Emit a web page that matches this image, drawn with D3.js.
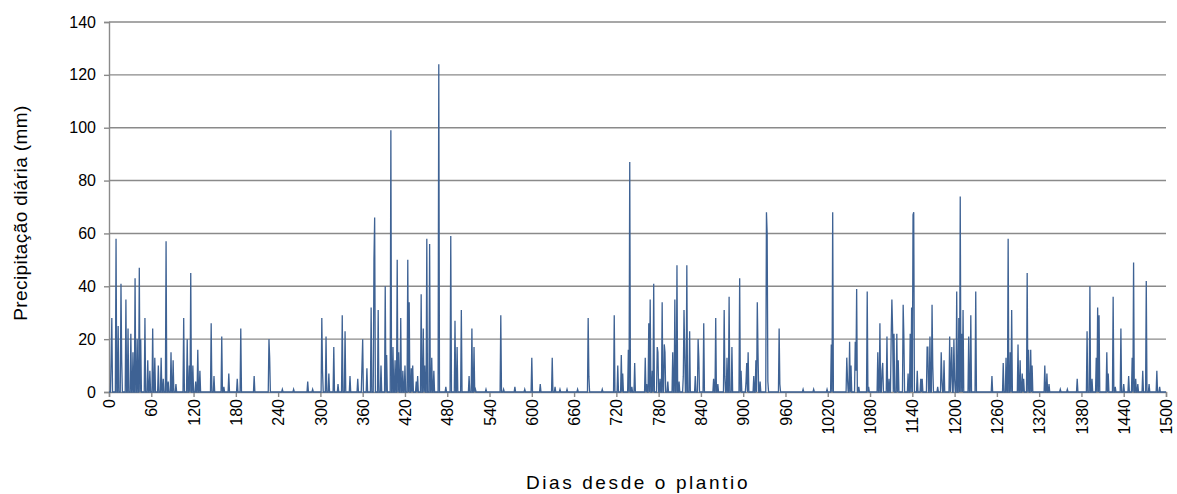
<!DOCTYPE html>
<html>
<head>
<meta charset="utf-8">
<script src="https://cdn.jsdelivr.net/npm/d3@7"></script>
<style>
  html, body { margin: 0; padding: 0; background: #ffffff; }
  svg { display: block; font-family: "Liberation Sans", Arial, sans-serif; }
</style>
</head>
<body>
<svg id="chart" width="1177" height="494"></svg>
<script>
// Days since planting that recorded rain, and the rainfall on each (mm).
const rainDay = [
  3, 4, 10, 13, 17, 18, 24, 27, 31, 34, 37, 40, 43, 45, 51, 55, 58, 62, 65, 70,
  74, 77, 81, 84, 88, 91, 95, 106, 111, 114, 116, 119, 123, 126, 129, 145, 149, 160, 163, 170,
  182, 187, 206, 227, 228, 246, 262, 282, 289, 302, 303, 308, 312, 319, 325, 331, 335, 342, 353, 359,
  360, 366, 372, 376, 377, 382, 386, 392, 394, 400, 403, 406, 409, 411, 414, 417, 420, 424, 426, 429,
  431, 436, 438, 443, 446, 448, 451, 455, 458, 461, 468, 478, 485, 491, 494, 500, 511, 515, 518, 520,
  535, 556, 560, 576, 590, 600, 612, 629, 633, 640, 650, 665, 680, 681, 700, 717, 722, 727, 729, 737,
  739, 742, 746, 761, 763, 766, 768, 771, 773, 778, 779, 782, 785, 788, 789, 793, 800, 803, 806, 809,
  815, 816, 817, 820, 824, 832, 836, 837, 844, 858, 861, 864, 873, 874, 877, 880, 884, 895, 897, 904,
  905, 907, 915, 918, 920, 921, 924, 933, 934, 935, 951, 952, 985, 1000, 1019, 1025, 1027, 1047, 1048, 1051,
  1053, 1059, 1060, 1061, 1064, 1076, 1078, 1091, 1094, 1097, 1098, 1104, 1107, 1110, 1111, 1112, 1114, 1118, 1120, 1127,
  1128, 1134, 1137, 1139, 1141, 1142, 1147, 1152, 1154, 1161, 1162, 1165, 1168, 1169, 1176, 1181, 1182, 1185, 1193, 1195,
  1196, 1199, 1200, 1203, 1206, 1208, 1210, 1212, 1220, 1223, 1230, 1253, 1269, 1273, 1276, 1279, 1281, 1290, 1293, 1296,
  1298, 1303, 1305, 1308, 1310, 1328, 1331, 1334, 1350, 1360, 1374, 1388, 1392, 1395, 1401, 1403, 1405, 1416, 1418, 1425,
  1428, 1436, 1440, 1447, 1452, 1454, 1457, 1460, 1467, 1472, 1476, 1487, 1491
];
const rainMm = [
  12, 28, 58, 25, 41, 12, 35, 24, 22, 15, 43, 20, 47, 20, 28, 12, 8, 24, 13, 10,
  13, 5, 57, 4, 15, 12, 3, 28, 20, 10, 45, 10, 4, 16, 8, 26, 6, 21, 2, 7,
  5, 24, 6, 20, 13, 1, 1, 4, 1, 28, 8, 21, 7, 17, 3, 29, 23, 6, 5, 10,
  20, 9, 32, 50, 66, 31, 10, 40, 14, 99, 17, 12, 50, 15, 28, 8, 10, 50, 34, 9,
  10, 4, 6, 37, 24, 10, 58, 56, 13, 8, 124, 2, 59, 27, 17, 31, 6, 24, 17, 1,
  1, 29, 1, 2, 1, 13, 3, 13, 2, 1, 1, 1, 28, 6, 1, 29, 10, 14, 7, 16,
  87, 2, 11, 13, 3, 26, 35, 8, 41, 17, 15, 5, 34, 18, 15, 4, 15, 35, 48, 4,
  6, 31, 15, 48, 23, 6, 20, 13, 26, 5, 28, 3, 31, 6, 13, 36, 17, 43, 8, 4,
  11, 15, 6, 12, 34, 15, 4, 68, 60, 4, 24, 3, 1, 1, 1, 18, 68, 13, 5, 19,
  10, 19, 8, 39, 2, 38, 2, 15, 26, 8, 11, 21, 5, 21, 35, 24, 22, 22, 12, 33,
  21, 7, 22, 32, 67, 68, 8, 5, 5, 17, 17, 21, 33, 10, 2, 15, 5, 12, 21, 8,
  17, 20, 5, 38, 28, 74, 22, 31, 21, 29, 38, 6, 11, 13, 58, 15, 31, 18, 12, 7,
  5, 45, 16, 16, 10, 10, 7, 3, 1, 1, 5, 23, 40, 5, 13, 32, 29, 15, 7, 36,
  2, 24, 3, 6, 13, 49, 5, 3, 8, 42, 3, 8, 2
];
const lastDay = 1500;
const dayTicks = d3.range(0, lastDay + 1, 60);
const mmTicks = [0, 20, 40, 60, 80, 100, 120, 140];

// One value per day: rain days take their reading, all other days are dry.
const rainByDay = new Map(rainDay.map((d, i) => [d, rainMm[i]]));
const series = d3.range(0, lastDay + 1).map(d => ({ day: d, mm: rainByDay.get(d) || 0 }));

const svg = d3.select("#chart");
const x = d3.scaleLinear().domain([0, lastDay]).range([109, 1166]);
const y = d3.scaleLinear().domain([0, 140]).range([392, 22]);

// Horizontal gridlines
svg.append("g")
  .selectAll("line")
  .data(mmTicks.filter(v => v > 0))
  .join("line")
  .attr("x1", x(0)).attr("x2", x(lastDay))
  .attr("y1", d => y(d)).attr("y2", d => y(d))
  .attr("stroke", "#8a8a8a")
  .attr("stroke-width", 1.4);

// Y axis
const yAxis = svg.append("g")
  .attr("transform", `translate(${x(0)},0)`)
  .call(d3.axisLeft(y).tickValues(mmTicks).tickSize(5).tickPadding(8));
yAxis.select(".domain").attr("stroke", "#8a8a8a").attr("stroke-width", 1.4);
yAxis.selectAll(".tick line").attr("stroke", "#8a8a8a").attr("stroke-width", 1.4);
yAxis.selectAll(".tick text")
  .attr("font-size", 16)
  .attr("fill", "#000")
  .attr("font-family", "Liberation Sans, Arial, sans-serif");

// X axis with vertical tick labels
const xAxis = svg.append("g")
  .attr("transform", `translate(0,${y(0)})`)
  .call(d3.axisBottom(x).tickValues(dayTicks).tickSize(5).tickFormat(d3.format("d")));
xAxis.select(".domain").attr("stroke", "#8a8a8a").attr("stroke-width", 1.4);
xAxis.selectAll(".tick line").attr("stroke", "#8a8a8a").attr("stroke-width", 1.4);
xAxis.selectAll(".tick text")
  .attr("font-size", 16)
  .attr("fill", "#000")
  .attr("font-family", "Liberation Sans, Arial, sans-serif")
  .attr("text-anchor", "end")
  .attr("dy", "0.35em")
  .attr("transform", "translate(0,7) rotate(-90)")
  .attr("x", 0)
  .attr("y", 0);

// Daily rainfall line
const line = d3.line().x(d => x(d.day)).y(d => y(d.mm));
svg.append("path")
  .datum(series)
  .attr("d", line)
  .attr("fill", "none")
  .attr("stroke", "#3e6294")
  .attr("stroke-width", 1.3)
  .attr("stroke-linejoin", "miter");

// Axis titles
svg.append("text")
  .attr("x", 638).attr("y", 489)
  .attr("text-anchor", "middle")
  .attr("font-size", 19)
  .attr("letter-spacing", 2.6)
  .attr("fill", "#000")
  .text("Dias desde o plantio");

svg.append("text")
  .attr("transform", "translate(27,213) rotate(-90)")
  .attr("text-anchor", "middle")
  .attr("font-size", 19)
  .attr("letter-spacing", 0.4)
  .attr("fill", "#000")
  .text("Precipitação diária (mm)");
</script>
</body>
</html>
